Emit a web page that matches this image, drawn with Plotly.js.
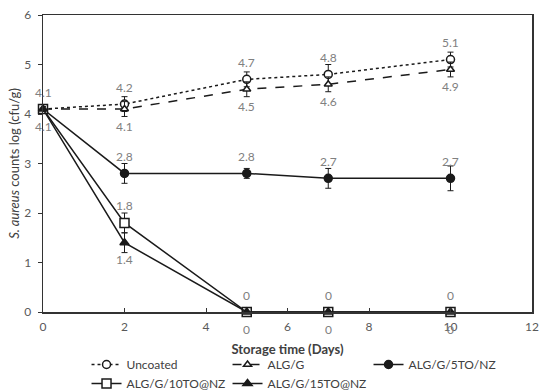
<!DOCTYPE html>
<html><head><meta charset="utf-8">
<script src="https://cdn.plot.ly/plotly-3.0.1.min.js"></script>
<style>body{margin:0;background:#fff}#chart{width:550px;height:392px}</style>
</head><body><div id="chart"></div>
<script>
const days = [0, 2, 5, 7, 10];
const seriesNames = ["Uncoated", "ALG/G", "ALG/G/5TO/NZ", "ALG/G/10TO@NZ", "ALG/G/15TO@NZ"];
const uncoated = [4.1, 4.2, 4.7, 4.8, 5.1];
const uncoatedErr = [0.05, 0.15, 0.15, 0.2, 0.15];
const algG = [4.1, 4.1, 4.5, 4.6, 4.9];
const algGErr = [0.05, 0.15, 0.15, 0.15, 0.15];
const alg5 = [4.1, 2.8, 2.8, 2.7, 2.7];
const alg5Err = [0.05, 0.2, 0.1, 0.2, 0.25];
const alg10 = [4.1, 1.8, 0, 0, 0];
const alg10Err = [0.05, 0.2, 0, 0, 0];
const alg15 = [4.1, 1.4, 0, 0, 0];
const alg15Err = [0.05, 0.2, 0, 0, 0];
const xTicks = [0, 2, 4, 6, 8, 10, 12];
const yTicks = [0, 1, 2, 3, 4, 5, 6];

const fontFam = "Lato, 'Open Sans', sans-serif";
const labelFont = {family: fontFam, size: 12, color: "#808080"};
function tr(name, y, err, dash, sym, fill, msize) {
  return {
    x: days, y: y, name: name, type: "scatter", mode: "lines+markers",
    line: {color: "#1a1a1a", width: 1.5, dash: dash},
    marker: {symbol: sym, size: msize, color: fill, line: {color: "#1a1a1a", width: 1.5}},
    error_y: {type: "data", array: err, visible: true, color: "#1a1a1a", thickness: 1, width: 3},
    cliponaxis: false
  };
}
const data = [
  tr(seriesNames[0], uncoated, uncoatedErr, "dot", "circle", "#ffffff", 8),
  tr(seriesNames[1], algG, algGErr, "dash", "triangle-up", "#ffffff", 7),
  tr(seriesNames[2], alg5, alg5Err, "solid", "circle", "#1a1a1a", 8),
  tr(seriesNames[3], alg10, alg10Err, "solid", "square", "#ffffff", 9),
  tr(seriesNames[4], alg15, alg15Err, "solid", "triangle-up", "#1a1a1a", 8)
];
// data labels: [values, mask, above?]
const labelSpecs = [
  [uncoated, [1,1,1,1,1], true],
  [algG, [1,1,1,1,1], false],
  [alg5, [0,1,1,1,1], true],
  [alg10, [0,1,1,1,1], true],
  [alg15, [0,1,1,1,1], false]
];
const annotations = [];
labelSpecs.forEach(([vals, mask, above]) => {
  vals.forEach((v, i) => {
    if (!mask[i]) return;
    annotations.push({x: days[i], y: v, xref: "x", yref: "y", text: String(v),
      showarrow: false, yshift: above ? 17 : -17, font: labelFont});
  });
});
const layout = {
  width: 550, height: 392,
  margin: {l: 43, r: 18, t: 15, b: 80, autoexpand: false},
  paper_bgcolor: "#fff", plot_bgcolor: "#fff",
  font: {family: fontFam, size: 12, color: "#595959"},
  showlegend: true,
  annotations: annotations,
  xaxis: {
    range: [0, 12], tickvals: xTicks, ticktext: xTicks.map(String), automargin: false,
    ticks: "inside", ticklen: 4, tickcolor: "#333", showgrid: false, zeroline: false,
    showline: true, linecolor: "#333", linewidth: 1.5, mirror: true, ticklabelstandoff: 3,
    tickfont: {family: fontFam, size: 12, color: "#595959"},
    title: {text: "<b>Storage time (Days)</b>", font: {family: fontFam, size: 13, color: "#404040"}, standoff: 12}
  },
  yaxis: {
    range: [0, 6], tickvals: yTicks, ticktext: yTicks.map(String), automargin: false,
    ticks: "outside", ticklen: 4, tickcolor: "#333", showgrid: false, zeroline: false,
    showline: true, linecolor: "#333", linewidth: 1.5, mirror: true, ticklabelstandoff: 4,
    tickfont: {family: fontFam, size: 12, color: "#595959"},
    title: {text: "<i>S. aureus</i> counts log (cfu/g)", font: {family: fontFam, size: 13, color: "#404040"}, standoff: 1}
  },
  legend: {
    orientation: "h", x: 0.089, xanchor: "left", y: -0.128, yanchor: "top",
    entrywidth: 96, tracegroupgap: 0,
    font: {family: fontFam, size: 12, color: "#404040"}, bgcolor: "rgba(0,0,0,0)"
  }
};
Plotly.newPlot("chart", data, layout, {staticPlot: true, displayModeBar: false});
</script></body></html>
